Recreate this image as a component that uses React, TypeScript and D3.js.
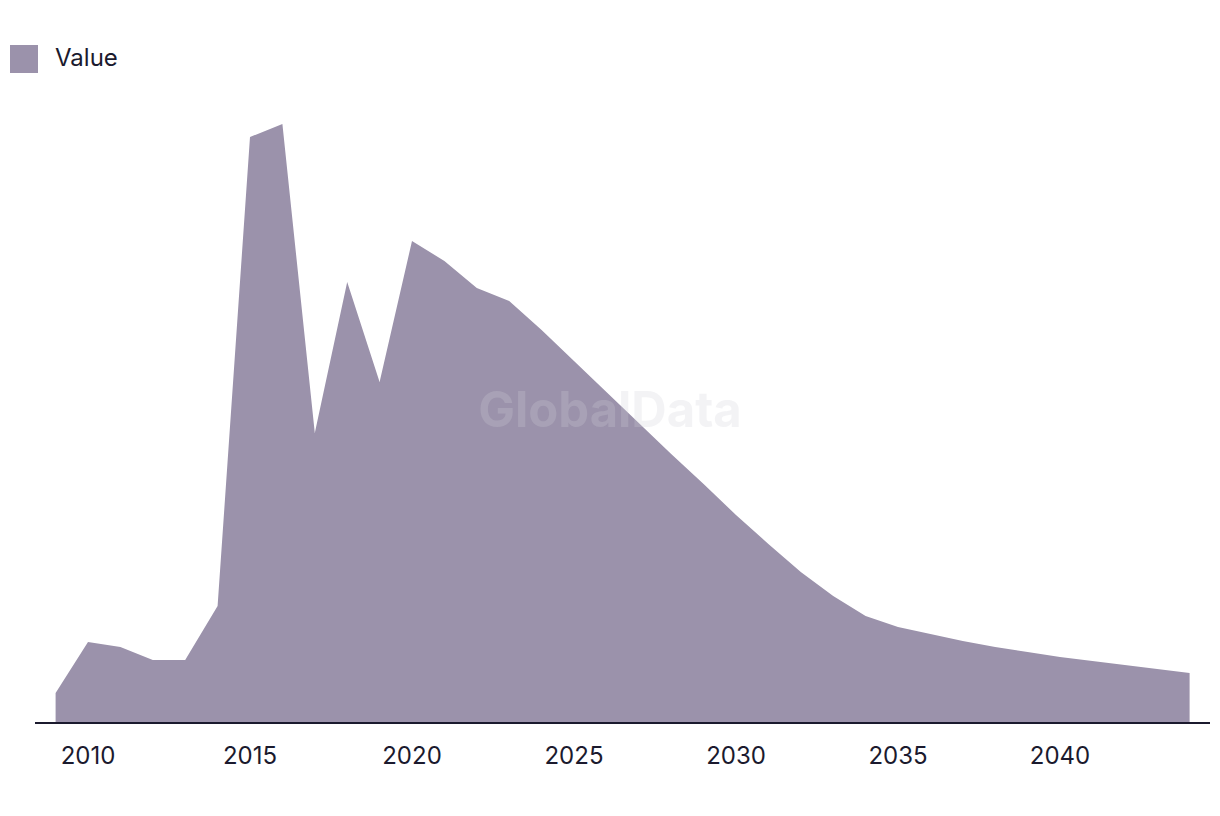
import React from "react";
import * as d3 from "d3";

const years: number[] = [
  2009, 2010, 2011, 2012, 2013, 2014, 2015, 2016, 2017, 2018, 2019, 2020,
  2021, 2022, 2023, 2024, 2025, 2026, 2027, 2028, 2029, 2030, 2031, 2032,
  2033, 2034, 2035, 2036, 2037, 2038, 2039, 2040, 2041, 2042, 2043, 2044,
];
const values: number[] = [
  30, 81, 76, 63, 63, 117, 586, 599, 290, 441, 341, 482,
  462, 435, 422, 393, 362, 331, 300, 269, 239, 208, 179, 151,
  127, 107, 96, 89, 82, 76, 71, 66, 62, 58, 54, 50,
];
const tickYears: number[] = [2010, 2015, 2020, 2025, 2030, 2035, 2040];
const seriesName = "Value";

const W = 1220;
const H = 816;
const FONT = "Inter, 'Noto Sans', sans-serif";
const FILL = "#9b92ab";
const INK = "#1b1a2e";

export default function App() {
  const x = d3.scaleLinear().domain([2009, 2044]).range([55.6, 1189.6]);
  const y = d3.scaleLinear().domain([0, 600]).range([723, 123]);
  const data = years.map((yr, i) => ({ yr, v: values[i] }));
  const area = d3
    .area<{ yr: number; v: number }>()
    .x((d) => x(d.yr))
    .y0(y(0))
    .y1((d) => y(d.v));

  return (
    <svg
      width={W}
      height={H}
      style={{ position: "absolute", left: 0, top: 0, background: "#fff" }}
    >
      <rect x={0} y={0} width={W} height={H} fill="#fff" />
      {/* legend */}
      <rect x={10} y={45} width={28} height={28} fill={FILL} />
      <text x={55} y={66} fontFamily={FONT} fontSize={24} fill={INK}>
        {seriesName}
      </text>
      {/* area */}
      <path d={area(data) || ""} fill={FILL} />
      {/* watermark */}
      <text
        x={610}
        y={427}
        textAnchor="middle"
        fontFamily={FONT}
        fontWeight={700}
        fontSize={49}
        fill="#d0d0d8"
        fillOpacity={0.25}
      >
        GlobalData
      </text>
      {/* axis */}
      <line x1={35} x2={1210} y1={723} y2={723} stroke={INK} strokeWidth={2} />
      {tickYears.map((t) => (
        <text
          key={t}
          x={x(t)}
          y={764}
          textAnchor="middle"
          fontFamily={FONT}
          fontSize={24}
          fill={INK}
        >
          {t}
        </text>
      ))}
    </svg>
  );
}
